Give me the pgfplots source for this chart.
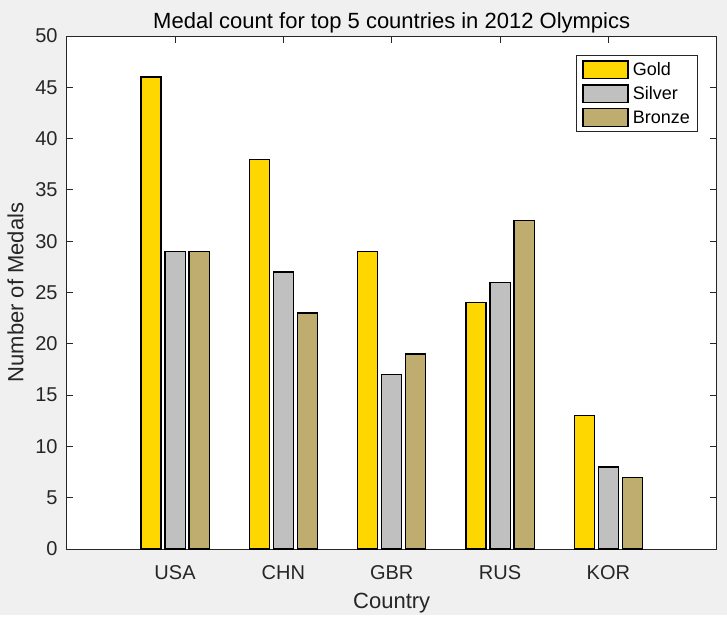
\documentclass[border=0pt]{standalone}
\usepackage{fontspec}
\setmainfont{Liberation Sans}
\usepackage{pgfplots}
\pgfplotsset{compat=1.18}
\definecolor{figbg}{RGB}{240,240,240}
\definecolor{axgray}{RGB}{38,38,38}
\definecolor{gold}{RGB}{255,215,0}
\definecolor{silver}{RGB}{192,192,192}
\definecolor{bronze}{RGB}{191,173,111}

\begin{document}
\begin{tikzpicture}[x=1pt,y=1pt]
  % figure background, same size as the reference (px = pt)
  \fill[figbg] (0,0) rectangle (727,615);
\begin{axis}[
    at={(66.7pt,66pt)}, anchor=south west,
    scale only axis,
    width=650pt, height=513pt,
    axis background/.style={fill=white},
    xmin=0, xmax=6,
    ymin=0, ymax=50,
    xtick={1,2,3,4,5},
    xticklabels={USA,CHN,GBR,RUS,KOR},
    ytick={0,5,...,50},
    tick align=inside,
    major tick length=6.5pt,
    axis line style={axgray, line width=1pt},
    tick style={axgray, line width=1pt},
    /pgf/number format/assume math mode=true,
    ticklabel style={font=\fontsize{20}{24}\selectfont, text=axgray},
    xticklabel style={anchor=base, yshift=-30pt},
    yticklabel style={anchor=east, inner sep=0pt, xshift=-9pt},
    legend style={
      at={(0.9707,0.962)}, anchor=north east,
      draw=axgray, line width=1pt, fill=white,
      font=\fontsize{18}{21}\selectfont, text=black,
      nodes={inner sep=1.5pt},
      row sep=5.3pt,
      column sep=2.8pt,
      inner xsep=5.7pt, inner ysep=4.5pt,
      cells={anchor=west},
    },
    legend image code/.code={%
      \draw[#1] (0pt,-8.7pt) rectangle (45pt,8.7pt);
    },
]

  % Gold
  \addplot[ybar, bar width=0.186, bar shift=-0.222,
    fill=gold, draw=black, line width=1.2pt]
    coordinates {(1,46) (2,38) (3,29) (4,24) (5,13)};

  % Silver
  \addplot[ybar, bar width=0.186, bar shift=0,
    fill=silver, draw=black, line width=1.2pt]
    coordinates {(1,29) (2,27) (3,17) (4,26) (5,8)};

  % Bronze
  \addplot[ybar, bar width=0.186, bar shift=0.222,
    fill=bronze, draw=black, line width=1.2pt]
    coordinates {(1,29) (2,23) (3,19) (4,32) (5,7)};

  \legend{Gold,Silver,Bronze\hspace{1.5pt}}

\end{axis}
  % title and axis labels
  \node[anchor=base, text=black, font=\fontsize{22}{26}\selectfont]
    at (391.7,586.5) {Medal count for top 5 countries in 2012 Olympics};
  \node[anchor=base, text=axgray, font=\fontsize{22}{26}\selectfont]
    at (391.7,6.7) {Country};
  \node[anchor=base, rotate=90, text=axgray, font=\fontsize{22}{26}\selectfont]
    at (23.3,322.5) {Number of Medals};
  \useasboundingbox (0,0) rectangle (727,615);
\end{tikzpicture}
\end{document}
